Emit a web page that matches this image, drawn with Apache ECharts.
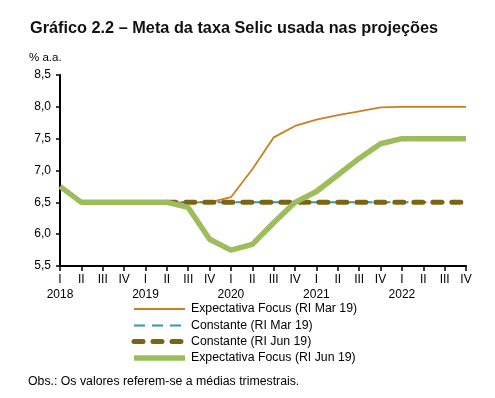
<!DOCTYPE html>
<html>
<head>
<meta charset="utf-8">
<script src="https://cdn.jsdelivr.net/npm/echarts@6/dist/echarts.min.js"></script>
<style>
  html, body { margin:0; padding:0; background:#fff; }
  #chart { width:495px; height:398px; }
</style>
</head>
<body>
<div id="chart"></div>
<script>
// trimestres 2018 I .. 2022 IV
var quarters = ['I','II','III','IV','I','II','III','IV','I','II','III','IV','I','II','III','IV','I','II','III','IV'];
var years = ['2018','','','','2019','','','','2020','','','','2021','','','','2022','','',''];
var yTicks = [5.5, 6.0, 6.5, 7.0, 7.5, 8.0, 8.5];

var focusMar = [null, null, null, null, 6.5, 6.5, 6.5, 6.5, 6.58, 7.02, 7.52, 7.7, 7.8, 7.87, 7.93, 7.99, 8.0, 8.0, 8.0, 8.0];
var constMar = [null, null, null, null, 6.5, 6.5, 6.5, 6.5, 6.5, 6.5, 6.5, 6.5, 6.5, 6.5, 6.5, 6.5, 6.5, 6.5, 6.5, 6.5];
var constJun = [null, null, null, null, null, 6.5, 6.5, 6.5, 6.5, 6.5, 6.5, 6.5, 6.5, 6.5, 6.5, 6.5, 6.5, 6.5, 6.5, 6.5];
var focusJun = [6.75, 6.5, 6.5, 6.5, 6.5, 6.5, 6.42, 5.92, 5.75, 5.84, 6.18, 6.5, 6.67, 6.93, 7.19, 7.42, 7.5, 7.5, 7.5, 7.5];

var names = ['Expectativa Focus (RI Mar 19)','Constante (RI Mar 19)','Constante (RI Jun 19)','Expectativa Focus (RI Jun 19)'];
var colors = ['#c98021','#3596b5','#7a6514','#9dbd5c'];

var chart = echarts.init(document.getElementById('chart'));
var font = 'Liberation Sans, Arial, sans-serif';
var txt = { color:'#000', fontFamily:font, fontSize:12 };

var styles = [
    { width:1.8 },
    { width:2, type:[11,7] },
    { width:5, type:[9,10], cap:'round' },
    { width:5.5 }
];

// legenda desenhada a mao (icones tracejados grossos)
var legendItems = [];
var legY = [309, 325.5, 341.5, 358];
for (var i = 0; i < names.length; i++) {
    var st = styles[i];
    legendItems.push({
        type:'line', shape:{ x1:134, y1:legY[i], x2:185, y2:legY[i] },
        style:{ stroke:colors[i], lineWidth:st.width, lineDash:st.type || null, lineCap:st.cap || 'butt' }
    });
    legendItems.push({
        type:'text', x:191, y:legY[i],
        style:{ text:names[i], fill:'#000', font:'12.3px ' + font, textVerticalAlign:'middle' }
    });
}

var option = {
    backgroundColor:'#fff',
    animation:false,
    title: [
        { text:'Gráfico 2.2 – Meta da taxa Selic usada nas projeções', left:30, top:21, padding:0,
          textStyle:{ color:'#111', fontFamily:font, fontSize:16.3, fontWeight:'bold' } },
        { text:'% a.a.', left:29, top:52, padding:0, textStyle:{ color:'#000', fontFamily:font, fontSize:11.5, fontWeight:'normal' } },
        { text:'Obs.: Os valores referem-se a médias trimestrais.', left:28, top:376, padding:0,
          textStyle:{ color:'#000', fontFamily:font, fontSize:12.3, fontWeight:'normal' } }
    ],
    graphic: legendItems,
    grid: { left:60, right:29, top:75, bottom:132 },
    xAxis: [
        {
            type:'category', data:quarters, boundaryGap:false,
            axisLine:{ lineStyle:{ color:'#000', width:2 } },
            axisTick:{ alignWithLabel:true, length:5, lineStyle:{ color:'#000', width:1.5 } },
            axisLabel:Object.assign({ interval:0, margin:8 }, txt)
        },
        {
            type:'category', data:years, boundaryGap:false, position:'bottom',
            axisLine:{ show:false }, axisTick:{ show:false },
            axisLabel:Object.assign({ interval:0, margin:23 }, txt)
        }
    ],
    yAxis: {
        type:'value', min:5.5, max:8.5, interval:0.5,
        axisLine:{ show:true, lineStyle:{ color:'#000', width:2 } },
        axisTick:{ show:true, length:4, lineStyle:{ color:'#000', width:1.5 } },
        splitLine:{ show:false },
        axisLabel:Object.assign({ margin:9, formatter:function(v){ return v.toFixed(1).replace('.', ','); } }, txt)
    },
    series: [
        { name:names[0], type:'line', data:focusMar, symbol:'none',
          lineStyle:Object.assign({ color:colors[0] }, styles[0]) },
        { name:names[1], type:'line', data:constMar, symbol:'none',
          lineStyle:Object.assign({ color:colors[1] }, styles[1]) },
        { name:names[2], type:'line', data:constJun, symbol:'none',
          lineStyle:Object.assign({ color:colors[2] }, styles[2]) },
        { name:names[3], type:'line', data:focusJun, symbol:'none',
          lineStyle:Object.assign({ color:colors[3] }, styles[3]) }
    ]
};
chart.setOption(option);
</script>
</body>
</html>
